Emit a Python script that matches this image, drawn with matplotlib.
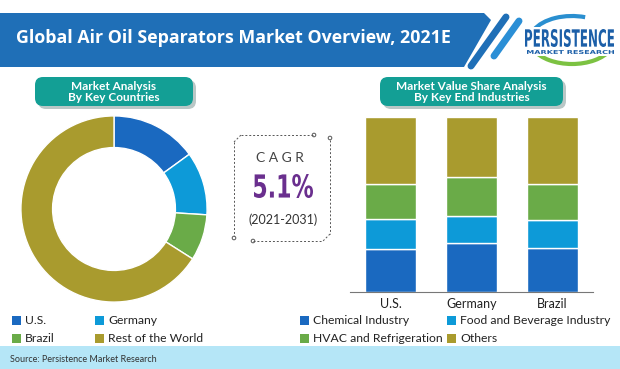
import matplotlib.pyplot as plt
import numpy as np
from matplotlib.patches import Polygon, FancyBboxPatch, Rectangle, Arc, Circle, PathPatch
from matplotlib.textpath import TextPath
from matplotlib.font_manager import FontProperties
from matplotlib.transforms import Affine2D

# donut: share by key countries (%)
countries = ["U.S.", "Germany", "Brazil", "Rest of the World"]
country_share = [15, 11, 8, 66]

# stacked bars: share by key end industries (%)
bar_countries = ["U.S.", "Germany", "Brazil"]
industries = ["Chemical Industry", "Food and Beverage Industry", "HVAC and Refrigeration", "Others"]
chemical = [24.5, 28.0, 25.0]
food_bev = [17.5, 15.5, 16.0]
hvac = [19.5, 22.0, 20.5]
others = [38.5, 34.5, 38.5]

cagr = "5.1%"
cagr_period = "(2021-2031)"

colors = ["#1a69c0", "#0d9ad8", "#6aab48", "#a99b2e"]
banner_blue = "#1f6fb7"
teal = "#139f95"
font = ["Lato", "DejaVu Sans"]

fig = plt.figure(figsize=(6.2, 3.69), dpi=100)

# background axes in pixel coordinates for decoration
bg = fig.add_axes([0, 0, 1, 1])
bg.set_xlim(0, 620)
bg.set_ylim(369, 0)
bg.axis("off")


def squeezed_text(s, x0, x1, y_top, y_bot, color):
    # draw text as a path stretched to fit a box (condensed look)
    tp = TextPath((0, 0), s, size=10, prop=FontProperties(family="DejaVu Sans", weight="bold"))
    ext = tp.get_extents()
    sx = (x1 - x0) / ext.width
    sy = (y_bot - y_top) / ext.height
    tr = Affine2D().translate(-ext.x0, -ext.y0).scale(sx, -sy).translate(x0, y_bot)
    bg.add_patch(PathPatch(tr.transform_path(tp), color=color, lw=0))


# title banner
bg.add_patch(Polygon([(0, 13), (484, 13), (491, 20), (464, 67), (0, 67)],
                     closed=True, color=banner_blue, lw=0))
bg.plot([506, 471], [17, 66], color=banner_blue, lw=5, solid_capstyle="round")
bg.plot([519, 494], [21, 56], color="#2b8fd6", lw=5, solid_capstyle="round")
bg.text(16, 38, "Global Air Oil Separators Market Overview, 2021E", color="white",
        fontsize=12.8, fontweight="bold", va="center", ha="left", family=["Open Sans", "DejaVu Sans"])

# logo
bg.add_patch(Arc((572, 40), 84, 48, theta1=15, theta2=165, color="#7cc242", lw=3))
bg.add_patch(Arc((572, 40), 84, 48, theta1=195, theta2=300, color="#2a8fd0", lw=3))
bg.add_patch(Rectangle((522, 27), 94, 29, color="white", lw=0))
squeezed_text("PERSISTENCE", 525, 614, 29, 47, "#1c5fa8")
squeezed_text("MARKET RESEARCH", 527, 614, 50, 54, "#1c5fa8")

# teal section labels
for x0, x1, label in [(35, 193, "Market Analysis\nBy Key Countries"),
                      (380, 563, "Market Value Share Analysis\nBy Key End Industries")]:
    bg.add_patch(FancyBboxPatch((x0 + 3, 80), x1 - x0, 29, boxstyle="round,pad=0,rounding_size=8",
                                color="#b9c7c6", lw=0))
    bg.add_patch(FancyBboxPatch((x0, 77), x1 - x0, 29, boxstyle="round,pad=0,rounding_size=8",
                                color=teal, lw=0))
    bg.text((x0 + x1) / 2, 92, label, color="white", fontsize=8.5, fontweight="bold",
            ha="center", va="center", linespacing=1.0, family=font)

# CAGR box
dash = dict(color="#555555", lw=0.7, ls=(0, (2, 2)))
bg.plot([241, 313], [135, 135], **dash)
bg.plot([234, 234], [142, 236], **dash)
bg.plot([253, 323], [241, 241], **dash)
bg.plot([330, 330], [140, 234], **dash)
bg.plot([234, 241], [142, 135], **dash)
bg.plot([330, 323], [234, 241], **dash)
for cx, cy in [(314, 135), (330, 138), (234, 238), (253, 241)]:
    bg.add_patch(Circle((cx, cy), 1.8, fill=False, ec="#555555", lw=0.7))
bg.text(280, 158, "C A G R", color="#444444", fontsize=10, ha="center", va="center", family=font)
squeezed_text(cagr, 254, 313, 174, 198, "#6a2f8e")
bg.text(283, 220, cagr_period, color="#333333", fontsize=9, ha="center", va="center", family=font)

# donut
ax_pie = fig.add_axes([20 / 620, 1 - 303 / 369, 188 / 620, 188 / 369])
ax_pie.pie(country_share, colors=colors, startangle=90, counterclock=False, radius=1,
           wedgeprops=dict(width=0.34, edgecolor="white", linewidth=1))
ax_pie.set_xlim(-1.01, 1.01)
ax_pie.set_ylim(-1.01, 1.01)
ax_pie.set_aspect("equal")

# stacked bars
ax_bar = fig.add_axes([350 / 620, 1 - 292 / 369, 243 / 620, 175 / 369])
x = np.arange(len(bar_countries))
bottom = np.zeros(len(bar_countries))
for vals, c in zip([chemical, food_bev, hvac, others], colors):
    ax_bar.bar(x, vals, bottom=bottom, width=0.64, color=c, edgecolor="white", linewidth=1)
    bottom += np.array(vals)
ax_bar.set_xlim(-0.5, 2.5)
ax_bar.set_ylim(0, 100)
ax_bar.set_yticks([])
ax_bar.set_xticks(x)
ax_bar.set_xticklabels(bar_countries, fontsize=9, color="#222222", family=font)
ax_bar.tick_params(axis="x", length=0, pad=4)
for s in ["top", "left", "right"]:
    ax_bar.spines[s].set_visible(False)
ax_bar.spines["bottom"].set_color("#777777")
ax_bar.patch.set_alpha(0)

# legends
def legend_item(x, y, color, label):
    bg.add_patch(Rectangle((x, y - 4.5), 9, 9, color=color, lw=0))
    bg.text(x + 13, y, label, fontsize=8.7, color="#222222", va="center", ha="left", family=font)

legend_item(12, 320, colors[0], countries[0])
legend_item(95, 320, colors[1], countries[1])
legend_item(12, 338, colors[2], countries[2])
legend_item(95, 338, colors[3], countries[3])
legend_item(300, 320, colors[0], industries[0])
legend_item(447, 320, colors[1], industries[1])
legend_item(300, 338, colors[2], industries[2])
legend_item(447, 338, colors[3], industries[3])

# source bar
bg.add_patch(Rectangle((0, 346), 620, 23, color="#b5e6f7", lw=0))
bg.text(10, 359, "Source: Persistence Market Research", fontsize=6.5, color="#333333",
        va="center", ha="left", family=font)

fig.savefig("out.png", dpi=100)
